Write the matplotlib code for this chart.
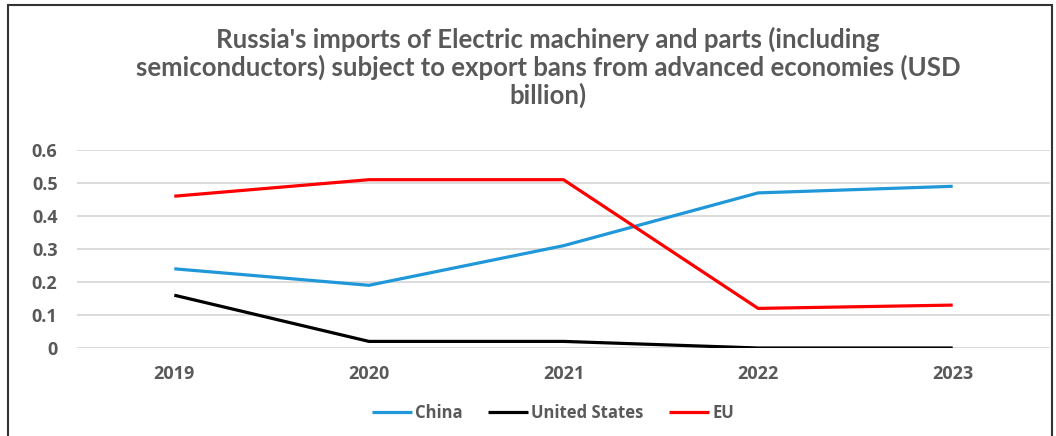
import matplotlib
matplotlib.use("Agg")
import matplotlib.pyplot as plt
from matplotlib.patches import Rectangle

years = ["2019", "2020", "2021", "2022", "2023"]
china = [0.24, 0.19, 0.31, 0.47, 0.49]
us = [0.16, 0.02, 0.02, 0.0, 0.0]
eu = [0.46, 0.51, 0.51, 0.12, 0.13]
yticks = [0, 0.1, 0.2, 0.3, 0.4, 0.5, 0.6]
ytick_labels = ["0", "0.1", "0.2", "0.3", "0.4", "0.5", "0.6"]
title = ("Russia's imports of Electric machinery and parts (including\n"
         "semiconductors) subject to export bans from advanced economies (USD\n"
         "billion)")

W, H = 1056, 436
fig = plt.figure(figsize=(W / 100, H / 100), dpi=100)
ax = fig.add_axes([77 / W, 88 / H, (1050 - 77) / W, (348 - 150) / H])

x = list(range(len(years)))
ax.plot(x, china, color="#1f97d9", lw=2.3, label="China", solid_capstyle="butt")
ax.plot(x, us, color="#000000", lw=2.3, label="United States", solid_capstyle="butt")
ax.plot(x, eu, color="#ff0000", lw=2.3, label="EU", solid_capstyle="butt")

ax.set_xlim(-0.5, len(years) - 0.5)
ax.set_ylim(0, 0.6)
ax.set_yticks(yticks)
ax.set_yticklabels(ytick_labels)
ax.set_xticks(x)
ax.set_xticklabels(years)
for sp in ax.spines.values():
    sp.set_visible(False)
ax.grid(axis="y", color="#d9d9d9", lw=1.3)
ax.set_axisbelow(True)
ax.tick_params(axis="both", length=0, colors="#595959", labelsize=13)
ax.tick_params(axis="y", pad=14)
ax.tick_params(axis="x", pad=12)
for lab in ax.get_xticklabels() + ax.get_yticklabels():
    lab.set_fontfamily("Open Sans")
    lab.set_fontweight("bold")
    lab.set_color("#595959")

fig.text(548 / W, 1 - 67 / H, title, ha="center", va="center", fontsize=18.5,
         fontweight="bold", family="Lato", color="#595959", linespacing=1.12)

leg = fig.legend(loc="center", bbox_to_anchor=(553 / W, 1 - 413 / H), ncol=3,
                 frameon=False, handlelength=2.4, columnspacing=1.5, handletextpad=0.2,
                 prop={"family": "Open Sans", "weight": "bold", "size": 12})
for t in leg.get_texts():
    t.set_color("#595959")

fig.patches.append(Rectangle((8 / W, -0.1), (1052 - 8) / W, 1.1 - 5 / H,
                             transform=fig.transFigure, fill=False,
                             edgecolor="#333333", lw=1.5))

fig.savefig("out.png", dpi=100)
